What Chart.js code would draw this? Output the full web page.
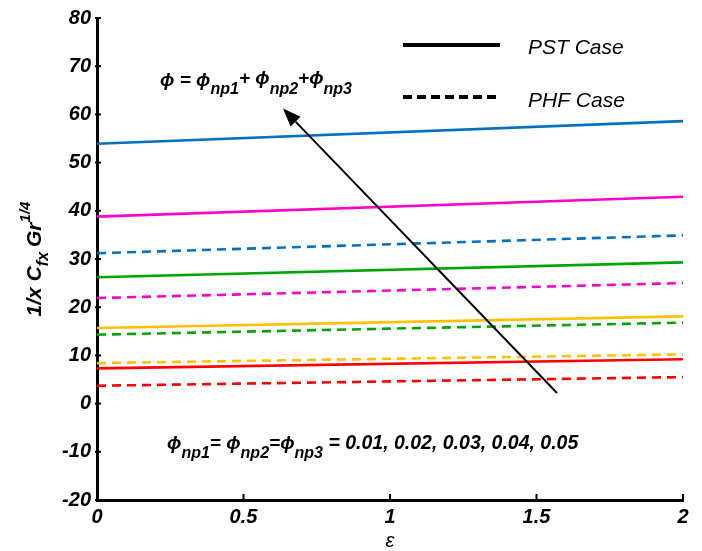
<!DOCTYPE html>
<html><head><meta charset="utf-8">
<script src="https://cdn.jsdelivr.net/npm/chart.js@4/dist/chart.umd.min.js"></script>
<style>html,body{margin:0;padding:0;background:#fff;}</style>
</head><body>
<canvas id="c" width="702" height="551"></canvas>
<script>
// ---- data ----
const epsilon = [0, 2];
const xTickValues = [0, 0.5, 1, 1.5, 2];
const yTickValues = [-20, -10, 0, 10, 20, 30, 40, 50, 60, 70, 80];
const phiLevels = ['0.01', '0.02', '0.03', '0.04', '0.05'];
// PST case (solid)
const pst001 = [7.3, 9.2];
const pst002 = [15.7, 18.1];
const pst003 = [26.2, 29.3];
const pst004 = [38.8, 42.9];
const pst005 = [53.9, 58.6];
// PHF case (dashed)
const phf001 = [3.7, 5.5];
const phf002 = [8.4, 10.2];
const phf003 = [14.3, 16.8];
const phf004 = [21.9, 25.0];
const phf005 = [31.2, 34.9];
// arrow (data coords): tail -> head
const arrowTail = [1.57, 2.2];
const arrowHead = [0.635, 61.2];

const levelColors = ['#FF0000', '#FFC000', '#00A600', '#FF00CC', '#0070C0'];
const FONT = '"Liberation Sans", Arial, Helvetica, sans-serif';

function pts(arr) { return epsilon.map((x, i) => ({x: x, y: arr[i]})); }
const pstSeries = [pst001, pst002, pst003, pst004, pst005];
const phfSeries = [phf001, phf002, phf003, phf004, phf005];
const datasets = [];
pstSeries.forEach((s, i) => datasets.push({label: 'PST ' + phiLevels[i], data: pts(s), borderColor: levelColors[i], borderWidth: 2.6, pointRadius: 0, fill: false}));
phfSeries.forEach((s, i) => datasets.push({label: 'PHF ' + phiLevels[i], data: pts(s), borderColor: levelColors[i], borderWidth: 2.6, borderDash: [9, 6], pointRadius: 0, fill: false}));

function drawRuns(ctx, x, y, parts) {
  let cx = x;
  parts.forEach(p => {
    ctx.font = 'italic bold ' + p.size + 'px ' + FONT;
    ctx.fillText(p.t, cx, y + (p.dy || 0));
    cx += ctx.measureText(p.t).width + (p.gap || 0);
  });
  return cx;
}

const deco = {
  id: 'deco',
  afterDraw(chart) {
    const ctx = chart.ctx;
    const xs = chart.scales.x, ys = chart.scales.y;
    const ca = chart.chartArea;
    ctx.save();
    ctx.strokeStyle = '#000';
    ctx.fillStyle = '#000';
    // inward ticks
    ctx.lineWidth = 2;
    yTickValues.forEach(v => {
      const py = ys.getPixelForValue(v);
      ctx.beginPath(); ctx.moveTo(ca.left - 2, py); ctx.lineTo(ca.left + 4, py); ctx.stroke();
    });
    xTickValues.forEach(v => {
      const px = xs.getPixelForValue(v);
      ctx.beginPath(); ctx.moveTo(px, ca.bottom); ctx.lineTo(px, ca.bottom - 6); ctx.stroke();
    });
    // legend
    ctx.lineWidth = 4;
    ctx.beginPath(); ctx.moveTo(403, 45); ctx.lineTo(500, 45); ctx.stroke();
    ctx.setLineDash([9, 5]);
    ctx.beginPath(); ctx.moveTo(403, 97); ctx.lineTo(500, 97); ctx.stroke();
    ctx.setLineDash([]);
    ctx.font = 'italic 21px ' + FONT;
    ctx.textBaseline = 'alphabetic';
    ctx.textAlign = 'left';
    ctx.fillText('PST Case', 528, 54);
    ctx.fillText('PHF Case', 528, 107);
    // top formula
    drawRuns(ctx, 160, 86, [
      {t: 'ϕ = ϕ', size: 19},
      {t: 'np1', size: 16, dy: 8},
      {t: '+ ϕ', size: 19, dy: -2},
      {t: 'np2', size: 16, dy: 8},
      {t: '+ϕ', size: 19, dy: -2},
      {t: 'np3', size: 16, dy: 8}
    ]);
    // bottom formula
    drawRuns(ctx, 167, 449, [
      {t: 'ϕ', size: 19},
      {t: 'np1', size: 16, dy: 9},
      {t: '= ϕ', size: 19},
      {t: 'np2', size: 16, dy: 9},
      {t: '=ϕ', size: 19},
      {t: 'np3', size: 16, dy: 9},
      {t: ' = ' + phiLevels.join(', '), size: 19.5}
    ]);
    // arrow
    const tx = xs.getPixelForValue(arrowTail[0]), ty = ys.getPixelForValue(arrowTail[1]);
    const hx = xs.getPixelForValue(arrowHead[0]), hy = ys.getPixelForValue(arrowHead[1]);
    const ang = Math.atan2(hy - ty, hx - tx);
    const L = 18, W = 7;
    const bx = hx - L * Math.cos(ang), by = hy - L * Math.sin(ang);
    ctx.lineWidth = 2;
    ctx.beginPath(); ctx.moveTo(tx, ty); ctx.lineTo(bx, by); ctx.stroke();
    ctx.beginPath();
    ctx.moveTo(hx, hy);
    ctx.lineTo(bx + W * Math.sin(ang), by - W * Math.cos(ang));
    ctx.lineTo(bx - W * Math.sin(ang), by + W * Math.cos(ang));
    ctx.closePath(); ctx.fill();
    // x title
    ctx.font = 'italic 20px ' + FONT;
    ctx.textAlign = 'center';
    ctx.fillText('ε', (ca.left + ca.right) / 2, 547);
    // y title (rotated)
    ctx.save();
    ctx.translate(41, (ca.top + ca.bottom) / 2);
    ctx.rotate(-Math.PI / 2);
    ctx.textAlign = 'left';
    const parts = [
      {t: '1/x C', size: 21},
      {t: 'fx', size: 16, dy: 7, gap: 5},
      {t: 'Gr', size: 21},
      {t: '1/4', size: 15, dy: -11}
    ];
    let w = 0;
    parts.forEach(p => { ctx.font = 'italic bold ' + p.size + 'px ' + FONT; w += ctx.measureText(p.t).width + (p.gap || 0); });
    drawRuns(ctx, -w / 2, 0, parts);
    ctx.restore();
    ctx.restore();
  }
};

new Chart(document.getElementById('c'), {
  type: 'line',
  data: {datasets: datasets},
  options: {
    responsive: false,
    animation: false,
    layout: {padding: {top: 16, right: 19, left: 0, bottom: 0}},
    plugins: {legend: {display: false}, tooltip: {enabled: false}},
    scales: {
      x: {
        type: 'linear', min: 0, max: 2,
        afterBuildTicks: s => { s.ticks = xTickValues.map(v => ({value: v})); },
        afterFit: s => { s.height = 51; },
        grid: {display: true, drawOnChartArea: false, drawTicks: false},
        border: {display: true, color: '#000', width: 3},
        ticks: {color: '#000', padding: 5, font: {family: FONT, size: 20, style: 'italic', weight: 'bold'}, callback: v => String(v)}
      },
      y: {
        type: 'linear', min: -20, max: 80,
        afterBuildTicks: s => { s.ticks = yTickValues.map(v => ({value: v})); },
        afterFit: s => { s.width = 97; },
        grid: {display: true, drawOnChartArea: false, drawTicks: false},
        border: {display: true, color: '#000', width: 3},
        ticks: {color: '#000', padding: 6, font: {family: FONT, size: 20, style: 'italic', weight: 'bold'}, callback: v => String(v)}
      }
    }
  },
  plugins: [deco]
});
</script>
</body></html>
